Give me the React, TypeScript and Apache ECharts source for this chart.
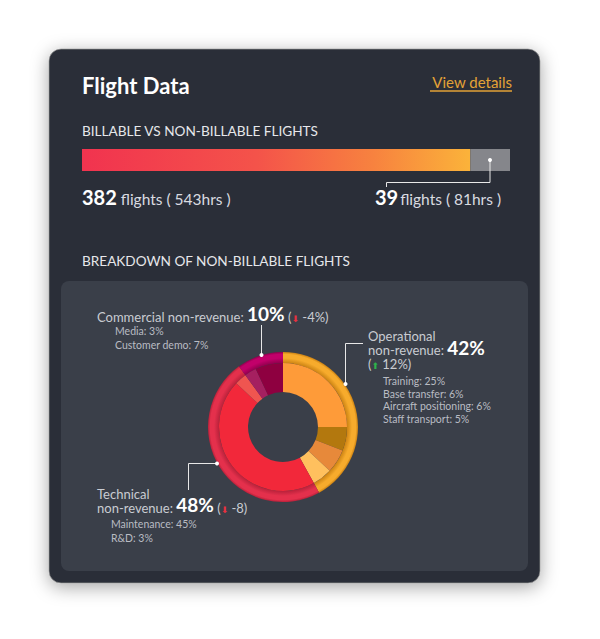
import React, { useEffect, useRef } from "react";
import * as echarts from "echarts";

// ---- data ----
const barCategories = ["Billable", "Non-billable"];
const flights = [382, 39];
const hours = [543, 81];

const groupNames = ["Operational", "Technical", "Commercial"];
const groupShares = [42, 48, 10];
const groupChanges = ["12%", "-8", "-4%"];

const subNames = [
  "Training",
  "Base transfer",
  "Aircraft positioning",
  "Staff transport",
  "Maintenance",
  "R&D",
  "Media",
  "Customer demo",
];
const subShares = [25, 6, 6, 5, 45, 3, 3, 7];

// ---- style ----
const FONT = "Lato, 'Open Sans', sans-serif";
const CX = 283;
const CY = 427;
const groupColors = ["#f7ab2c", "#e4304c", "#c2006a"];
const groupDark = ["#c98012", "#b8213a", "#8e004c"];
const subColors = [
  "#fe9b39",
  "#b3780e",
  "#e7893a",
  "#ffc05e",
  "#f2283a",
  "#ef5550",
  "#a52060",
  "#8e0040",
];

function ringColor(i: number) {
  return {
    type: "radial",
    x: CX,
    y: CY,
    r: 75,
    global: true,
    colorStops: [
      { offset: 0, color: groupDark[i] },
      { offset: 0.85, color: groupDark[i] },
      { offset: 0.92, color: groupColors[i] },
      { offset: 0.97, color: groupColors[i] },
      { offset: 1, color: groupDark[i] },
    ],
  };
}

const LBL = "#c9ccd2";
const SUB = "#b9bcc3";
const ARROW_FONT = "'DejaVu Sans', sans-serif";

function richSet(lh: number) {
  return {
    l: { fontSize: 13, fill: LBL, fontFamily: FONT, verticalAlign: "bottom", lineHeight: lh },
    p: { fontSize: 19, fontWeight: "bold", fill: "#ffffff", fontFamily: FONT, verticalAlign: "bottom", lineHeight: lh },
    dn: { fontSize: 9, fill: "#e8303f", fontFamily: ARROW_FONT, verticalAlign: "bottom", lineHeight: lh },
    up: { fontSize: 9, fill: "#2db34a", fontFamily: ARROW_FONT, verticalAlign: "bottom", lineHeight: lh },
  };
}

export default function App() {
  const ref = useRef<HTMLDivElement>(null);
  useEffect(() => {
    if (!ref.current) return;
    const chart = echarts.init(ref.current, null, { renderer: "svg" });
    const numRich = {
      b: { fontSize: 20, fontWeight: "bold", fill: "#ffffff", fontFamily: FONT, verticalAlign: "bottom", lineHeight: 24 },
      n: { fontSize: 15.5, fill: "#d9dbe0", fontFamily: FONT, verticalAlign: "bottom", lineHeight: 23.5 },
    };

    const subText = (from: number, to: number) =>
      subNames
        .slice(from, to)
        .map((n, k) => `${n}: ${subShares[from + k]}%`)
        .join("\n");

    const option: any = {
      animation: false,
      textStyle: { fontFamily: FONT },
      grid: { left: 82, top: 149, width: 428, height: 22 },
      xAxis: { type: "value", show: false, min: 0, max: flights[0] + flights[1] },
      yAxis: { type: "category", show: false, data: ["flights"] },
      series: [
        {
          type: "bar",
          name: barCategories[0],
          stack: "all",
          barWidth: 22,
          data: [flights[0]],
          itemStyle: {
            color: {
              type: "linear",
              x: 0,
              y: 0,
              x2: 1,
              y2: 0,
              colorStops: [
                { offset: 0, color: "#f1334f" },
                { offset: 0.45, color: "#f4534a" },
                { offset: 0.75, color: "#f7823f" },
                { offset: 1, color: "#fbb33a" },
              ],
            },
          },
          emphasis: { disabled: true },
        },
        {
          type: "bar",
          name: barCategories[1],
          stack: "all",
          barWidth: 22,
          data: [flights[1]],
          itemStyle: { color: "#85868b" },
          emphasis: { disabled: true },
        },
        {
          type: "pie",
          center: [CX, CY],
          radius: [64, 75],
          startAngle: 90,
          clockwise: true,
          label: { show: false },
          labelLine: { show: false },
          emphasis: { disabled: true },
          silent: true,
          data: groupNames.map((n, i) => ({
            name: n,
            value: groupShares[i],
            itemStyle: { color: ringColor(i) },
          })),
        },
        {
          type: "pie",
          center: [CX, CY],
          radius: [35, 64],
          startAngle: 90,
          clockwise: true,
          label: { show: false },
          labelLine: { show: false },
          emphasis: { disabled: true },
          silent: true,
          data: subNames.map((n, i) => ({
            name: n,
            value: subShares[i],
            itemStyle: { color: subColors[i] },
          })),
        },
      ],
      graphic: [
        {
          type: "rect",
          z: -20,
          shape: { x: 49, y: 49, width: 491, height: 534, r: 12 },
          style: {
            fill: "#2b2f39",
            stroke: "rgba(150,150,150,0.7)",
            lineWidth: 1,
            shadowBlur: 18,
            shadowColor: "rgba(0,0,0,0.35)",
            shadowOffsetY: 4,
          },
        },
        {
          type: "rect",
          z: -19,
          shape: { x: 61, y: 281, width: 467, height: 290, r: 8 },
          style: { fill: "#3a3f49" },
        },
        {
          type: "text",
          x: 82,
          y: 85,
          style: { text: "Flight Data", font: `bold 22px ${FONT}`, fill: "#ffffff", verticalAlign: "middle" },
        },
        {
          type: "text",
          x: 512,
          y: 82,
          style: { text: "View details", font: `15px ${FONT}`, fill: "#e3a236", align: "right", verticalAlign: "middle" },
        },
        {
          type: "line",
          shape: { x1: 430, y1: 91, x2: 512, y2: 91 },
          style: { stroke: "#e3a236", lineWidth: 1.3 },
        },
        {
          type: "text",
          x: 82,
          y: 131,
          style: { text: "BILLABLE VS NON-BILLABLE FLIGHTS", font: `13.6px ${FONT}`, fill: "#e6e7ea", verticalAlign: "middle" },
        },
        {
          type: "text",
          x: 82,
          y: 261,
          style: { text: "BREAKDOWN OF NON-BILLABLE FLIGHTS", font: `13.6px ${FONT}`, fill: "#e6e7ea", verticalAlign: "middle" },
        },
        {
          type: "text",
          x: 82,
          y: 195,
          style: {
            text: `{b|${flights[0]}}{n| flights ( ${hours[0]}hrs )}`,
            verticalAlign: "middle",
            rich: numRich,
          },
        },
        {
          type: "text",
          x: 375,
          y: 195,
          style: {
            text: `{b|${flights[1]}}{n|flights ( ${hours[1]}hrs )}`,
            verticalAlign: "middle",
            rich: {
              b: numRich.b,
              n: { ...numRich.n, padding: [0, 0, 0, 2] },
            },
          },
        },
        // bar callout
        {
          type: "polyline",
          z: 100,
          shape: { points: [[490, 160], [490, 182.5], [386.5, 182.5], [386.5, 187]] },
          style: { stroke: "#e8e8e8", lineWidth: 1, fill: "none" },
        },
        { type: "circle", z: 101, shape: { cx: 490, cy: 160, r: 2 }, style: { fill: "#ffffff" } },
        // commercial callout
        {
          type: "line",
          z: 100,
          shape: { x1: 261.5, y1: 325, x2: 261.5, y2: 355 },
          style: { stroke: "#e8e8e8", lineWidth: 1 },
        },
        { type: "circle", z: 101, shape: { cx: 261.5, cy: 355, r: 2 }, style: { fill: "#ffffff" } },
        // operational callout
        {
          type: "polyline",
          z: 100,
          shape: { points: [[363, 343.5], [345.5, 343.5], [345.5, 384]] },
          style: { stroke: "#e8e8e8", lineWidth: 1, fill: "none" },
        },
        { type: "circle", z: 101, shape: { cx: 345.5, cy: 384, r: 2 }, style: { fill: "#ffffff" } },
        // technical callout
        {
          type: "polyline",
          z: 100,
          shape: { points: [[217, 463.5], [188.5, 463.5], [188.5, 490]] },
          style: { stroke: "#e8e8e8", lineWidth: 1, fill: "none" },
        },
        { type: "circle", z: 101, shape: { cx: 217, cy: 463.5, r: 2 }, style: { fill: "#ffffff" } },
        // commercial label
        {
          type: "text",
          x: 97,
          y: 312,
          style: {
            text: `{l|${groupNames[2]} non-revenue: }{p|${groupShares[2]}%}{l| (}{dn|⬇}{l| ${groupChanges[2]})}`,
            verticalAlign: "middle",
            rich: richSet(22),
          },
        },
        {
          type: "text",
          x: 115,
          y: 338,
          style: { text: subText(6, 8), font: `10.5px ${FONT}`, fill: SUB, lineHeight: 13.5, verticalAlign: "middle" },
        },
        // operational label (3 lines in one text)
        {
          type: "text",
          x: 368,
          y: 328.5,
          style: {
            text:
              `{l|${groupNames[0]}}\n` +
              `{l|non-revenue: }{p|${groupShares[0]}%}\n` +
              `{l|(}{up|⬆}{l| ${groupChanges[0]})}`,
            verticalAlign: "top",
            rich: richSet(14),
          },
        },
        {
          type: "text",
          x: 383,
          y: 400,
          style: { text: subText(0, 4), font: `10.5px ${FONT}`, fill: SUB, lineHeight: 12.5, verticalAlign: "middle" },
        },
        // technical label (2 lines in one text)
        {
          type: "text",
          x: 97,
          y: 487,
          style: {
            text:
              `{l|${groupNames[1]}}\n` +
              `{l|non-revenue: }{p|${groupShares[1]}%}{l| (}{dn|⬇}{l| ${groupChanges[1]})}`,
            verticalAlign: "top",
            rich: richSet(13.5),
          },
        },
        {
          type: "text",
          x: 111,
          y: 531,
          style: { text: subText(4, 6), font: `10.5px ${FONT}`, fill: SUB, lineHeight: 13.5, verticalAlign: "middle" },
        },
      ],
    };
    chart.setOption(option);
    return () => chart.dispose();
  }, []);
  return (
    <div
      ref={ref}
      style={{ position: "fixed", left: 0, top: 0, width: 600, height: 639, background: "#ffffff" }}
    />
  );
}
